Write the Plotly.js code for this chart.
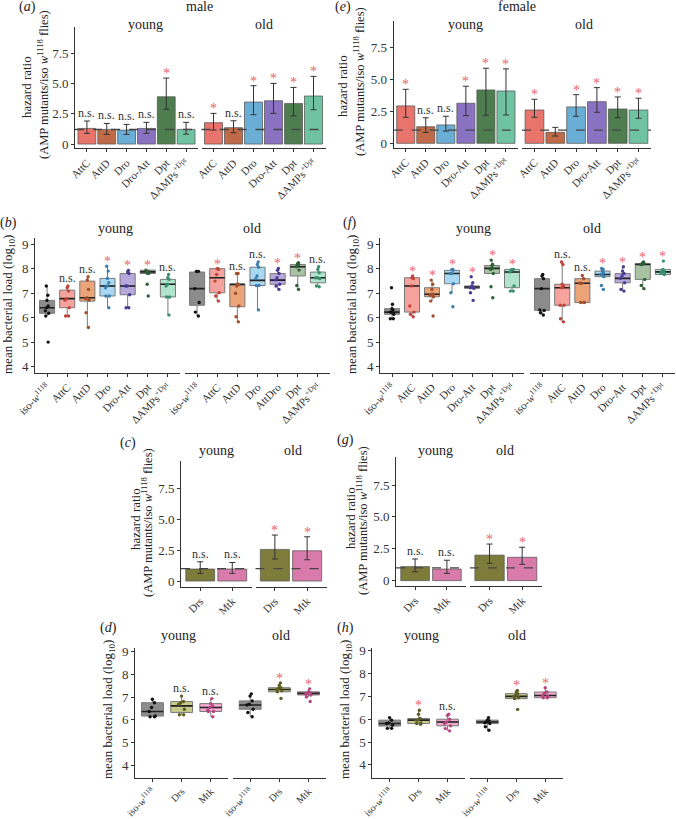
<!DOCTYPE html>
<html><head><meta charset="utf-8">
<script src="https://cdn.plot.ly/plotly-3.0.1.min.js"></script>
<style>html,body{margin:0;padding:0;background:#fff}#chart{width:676px;height:819px}</style>
</head><body><div id="chart"></div>
<script>
// ---------------- DATA ----------------
const hrLabels = ['AttC','AttD','Dro','Dro-Att','Dpt','ΔAMPs<sup>+Dpt</sup>'];
const hrColors = ['#E8746B','#BF6A48','#6AAED6','#8A72C2','#4E7D4F','#70C3A2'];
// (a) male hazard ratios
const aYoungHR = [1.29,1.21,1.15,1.29,3.90,1.21];
const aYoungLo = [0.88,0.80,0.80,0.88,2.86,0.82];
const aYoungHi = [1.90,1.70,1.62,1.79,5.44,1.79];
const aYoungSig = ['n.s.','n.s.','n.s.','n.s.','*','n.s.'];
const aOldHR = [1.76,1.35,3.46,3.57,3.35,3.96];
const aOldLo = [1.15,0.93,2.42,2.53,2.33,2.83];
const aOldHi = [2.53,1.92,4.81,5.00,4.67,5.58];
const aOldSig = ['*','n.s.','*','*','*','*'];
const aRef = 1.2;
// (e) female hazard ratios
const eYoungHR = [2.93,1.30,1.44,3.14,4.18,4.10];
const eYoungLo = [2.04,0.85,0.96,2.17,2.20,2.22];
const eYoungHi = [4.23,2.00,2.12,4.47,5.88,5.83];
const eYoungSig = ['*','n.s.','n.s.','*','*','*'];
const eOldHR = [2.61,0.86,2.85,3.26,2.69,2.61];
const eOldLo = [2.04,0.57,2.12,2.43,2.01,1.96];
const eOldHi = [3.45,1.25,3.81,4.36,3.63,3.53];
const eOldSig = ['*','','*','*','*','*'];
const eRef = 1.04;
// (c) male, (g) female: Drs / Mtk hazard ratios
const dmLabels = ['Drs','Mtk'];
const dmColors = ['#7E7C3A','#D97BAA'];
const cYoungHR = [0.97,0.97], cYoungLo = [0.62,0.62], cYoungHi = [1.56,1.50], cYoungSig = ['n.s.','n.s.'];
const cOldHR = [2.56,2.45], cOldLo = [1.78,1.72], cOldHi = [3.72,3.58], cOldSig = ['*','*'];
const cRef = 1.0;
const gYoungHR = [1.10,0.91], gYoungLo = [0.70,0.57], gYoungHi = [1.70,1.60], gYoungSig = ['n.s.','n.s.'];
const gOldHR = [2.00,1.83], gOldLo = [1.36,1.28], gOldHi = [2.87,2.62], gOldSig = ['*','*'];
const gRef = 1.0;

// bacterial load box plots
const isoLab = 'iso-<i>w</i><sup>1118</sup>';
const loadLabelsYoung = [isoLab,'AttC','AttD','Dro','Dro-Att','Dpt','ΔAMPs<sup>+Dpt</sup>'];
const loadLabelsOldB = [isoLab,'AttC','AttD','Dro','AttDro','Dpt','ΔAMPs<sup>+Dpt</sup>'];
const loadLabelsOldF = [isoLab,'AttC','AttD','Dro','Dro-Att','Dpt','ΔAMPs<sup>+Dpt</sup>'];
const loadFill = ['#8C8C8C','#F6A39D','#EBA478','#A9D8F2','#B7A8DD','#A8C3A3','#B2E4CD'];
const loadPt = ['#111111','#C0443C','#A0502E','#3B7FAF','#4A3D94','#2F5F35','#3A8F70'];
// (b) male young
const bYoungQ1 = [6.18,6.41,6.68,6.89,6.94,7.81,6.85];
const bYoungMed = [6.41,6.78,6.82,7.30,7.30,7.88,7.37];
const bYoungQ3 = [6.71,7.13,7.50,7.61,7.81,7.95,7.57];
const bYoungLo = [6.07,6.07,5.60,6.41,6.41,7.81,6.11];
const bYoungHi = [7.30,7.30,7.68,8.11,7.94,7.95,7.77];
const bYoungPts = [
  [7.30,6.92,6.71,6.48,6.41,6.28,6.18,6.07,5.00],
  [7.30,7.23,7.09,6.78,6.72,6.41,6.07,6.07],
  [7.68,7.55,7.16,6.82,6.78,6.72,6.20,5.60],
  [8.11,7.91,7.61,7.43,7.30,7.23,6.89,6.89,6.41],
  [7.94,7.87,7.81,7.30,7.30,6.94,6.41,6.41],
  [7.95,7.90,7.88,7.88,7.88,7.85,7.83,7.81,7.37,6.89],
  [7.77,7.64,7.57,7.37,7.30,6.85,6.85,6.11]];
const bYoungSig = ['','n.s.','n.s.','*','*','*','n.s.'];
// (b) male old
const bOldQ1 = [6.51,7.02,6.45,7.32,7.37,7.71,7.43];
const bOldMed = [7.19,7.64,7.37,7.53,7.54,8.09,7.64];
const bOldQ3 = [7.87,8.01,7.37,8.07,7.81,8.18,7.87];
const bOldLo = [6.07,6.68,5.80,6.32,7.16,7.16,7.27];
const bOldHi = [7.90,8.01,7.81,8.28,8.02,8.25,8.09];
const bOldPts = [
  [7.90,7.90,7.90,7.19,6.62,6.23,6.07],
  [8.01,8.01,7.98,7.77,7.50,7.02,6.89,6.68],
  [7.81,7.81,7.37,7.37,7.30,7.00,6.48,6.04,5.83],
  [8.28,8.18,8.07,7.71,7.60,7.32,7.32,6.32],
  [8.02,7.94,7.81,7.64,7.54,7.37,7.30,7.16],
  [8.25,8.22,8.18,8.14,8.09,7.95,7.32,7.16],
  [8.09,7.98,7.84,7.64,7.64,7.60,7.30,7.27]];
const bOldSig = ['','*','n.s.','n.s.','*','*','n.s.'];
// (f) female young
const fYoungQ1 = [6.14,6.23,6.86,7.39,7.20,7.81,7.23];
const fYoungMed = [6.23,7.30,6.96,7.81,7.26,8.02,7.87];
const fYoungQ3 = [6.37,7.64,7.23,7.94,7.30,8.14,7.98];
const fYoungLo = [5.96,6.04,6.68,7.02,7.20,7.81,7.09];
const fYoungHi = [6.55,7.71,7.54,7.98,7.43,8.36,7.98];
const fYoungPts = [
  [7.23,6.55,6.37,6.32,6.23,6.23,6.14,5.96,5.96],
  [7.71,7.64,7.60,7.30,6.48,6.23,6.14,6.04],
  [7.54,7.37,7.16,6.96,6.96,6.92,6.86,6.68,6.07],
  [7.98,7.98,7.94,7.81,7.81,7.39,7.02,6.45],
  [7.68,7.43,7.30,7.26,7.26,7.23,7.20,7.02,6.71],
  [8.36,8.18,8.14,8.02,8.02,7.98,7.81,7.27,6.82],
  [7.98,7.98,7.94,7.87,7.30,7.09,7.09]];
const fYoungSig = ['','*','*','*','*','*','*'];
// (f) female old
const fOldQ1 = [6.30,6.51,6.62,7.68,7.43,7.57,7.77];
const fOldMed = [7.19,7.23,7.41,7.77,7.61,8.18,7.88];
const fOldQ3 = [7.60,7.37,7.60,7.91,7.81,8.22,7.98];
const fOldLo = [6.11,5.80,6.62,7.68,7.09,7.19,7.77];
const fOldHi = [7.77,8.28,7.73,8.02,8.09,8.28,7.98];
const fOldPts = [
  [7.77,7.71,7.60,7.19,6.32,6.30,6.20,6.11],
  [8.28,8.18,7.37,7.30,7.23,6.51,6.51,5.96,5.83],
  [7.73,7.60,7.41,7.41,6.62,6.62,6.62],
  [8.02,7.98,7.91,7.84,7.77,7.77,7.68,7.32,7.16],
  [8.09,7.91,7.81,7.71,7.61,7.43,7.16,7.09],
  [8.28,8.25,8.22,8.18,8.18,7.57,7.32,7.19],
  [8.32,7.98,7.94,7.91,7.88,7.84,7.81,7.77]];
const fOldSig = ['','n.s.','n.s.','*','*','*','*'];
// (d),(h) Drs / Mtk bacterial load
const dmLoadLabels = [isoLab,'Drs','Mtk'];
const dmFill = ['#8C8C8C','#C9C98C','#F3AACF'];
const dmPt = ['#111111','#5E5E22','#B5467F'];
const dYoungQ1 = [6.16,6.32,6.36], dYoungMed = [6.36,6.61,6.54], dYoungQ3 = [6.75,6.80,6.71];
const dYoungLo = [6.13,6.22,6.13], dYoungHi = [6.90,7.04,6.93];
const dYoungPts = [[6.90,6.75,6.54,6.36,6.16,6.13,6.13],[7.04,6.80,6.75,6.68,6.46,6.22,6.22],[6.93,6.71,6.61,6.54,6.42,6.36,6.36,6.13]];
const dYoungSig = ['','n.s.','n.s.'];
const dOldQ1 = [6.46,7.23,7.09], dOldMed = [6.65,7.33,7.16], dOldQ3 = [6.83,7.41,7.23];
const dOldLo = [6.13,7.23,7.00], dOldHi = [7.14,7.62,7.36];
const dOldPts = [[7.14,7.04,6.83,6.68,6.65,6.46,6.32,6.13],[7.62,7.51,7.41,7.38,7.33,7.28,7.23,6.94],[7.36,7.23,7.19,7.16,7.12,7.09,7.00,6.80]];
const dOldSig = ['','*','*'];
const hYoungQ1 = [5.70,5.81,5.71], hYoungMed = [5.81,5.96,5.88], hYoungQ3 = [5.96,6.03,6.00];
const hYoungLo = [5.60,5.78,5.49], hYoungHi = [6.07,6.39,6.22];
const hYoungPts = [[6.07,5.96,5.84,5.81,5.74,5.60,5.60],[6.39,6.22,6.03,5.96,5.96,5.84,5.81,5.78],[6.22,6.17,6.00,5.88,5.81,5.71,5.59,5.49]];
const hYoungSig = ['','*','n.s.'];
const hOldQ1 = [5.81,6.90,6.94], hOldMed = [5.88,7.00,7.04], hOldQ3 = [5.96,7.12,7.19];
const hOldLo = [5.52,6.90,6.94], hOldHi = [6.07,7.26,7.38];
const hOldPts = [[6.07,5.96,5.93,5.88,5.84,5.81,5.67,5.52],[7.26,7.19,7.12,7.04,7.00,6.94,6.90,6.43],[7.38,7.19,7.14,7.04,7.00,6.94,6.94]];
const hOldSig = ['','*','*'];

const hrTicks = [0,2.5,5,7.5], hrTickText = ['0','2.5','5.0','7.5'];
const loadTicks = [4,5,6,7,8,9], loadTickText = ['4','5','6','7','8','9'];

// ---------------- BUILD ----------------
const F = "Liberation Serif, Times New Roman, serif";
const W = 676, H = 819;
const STAR = '#E8636B', NS = '#333333';
const layout = {
  width: W, height: H, margin: {l:0, r:0, t:0, b:0}, showlegend: false,
  paper_bgcolor: '#ffffff', plot_bgcolor: 'rgba(0,0,0,0)',
  font: {family: F, size: 12, color: '#222'},
  boxmode: 'overlay', barmode: 'overlay',
  annotations: [], shapes: []
};
const traces = [];
let xCount = 0, yCount = 0;
const nm = (p, n) => n === 1 ? p : p + n;

function makePanel(g, labsYoung, labsOld, ticks, tickText, xFont) {
  yCount++;
  const yName = nm('y', yCount);
  const xs = [];
  [labsYoung, labsOld].forEach((labs, k) => {
    xCount++;
    const xName = nm('x', xCount);
    layout['xaxis' + (xCount === 1 ? '' : xCount)] = {
      domain: [g.x[k][0] / W, g.x[k][1] / W], range: [-0.6, labs.length - 0.4], anchor: yName,
      showline: true, linecolor: '#333', linewidth: 1, ticks: 'outside', ticklen: 3, tickcolor: '#333', tickwidth: 1,
      tickmode: 'array', tickvals: labs.map((_, i) => i), ticktext: labs, tickangle: -45,
      tickfont: {family: F, size: xFont || 11, color: '#333'}, showgrid: false, zeroline: false, fixedrange: true
    };
    xs.push(xName);
  });
  layout['yaxis' + (yCount === 1 ? '' : yCount)] = {
    domain: [1 - g.y[1] / H, 1 - g.y[0] / H], range: g.r, anchor: xs[0],
    showline: true, linecolor: '#333', linewidth: 1, ticks: 'outside', ticklen: 3, tickcolor: '#333', tickwidth: 1,
    tickmode: 'array', tickvals: ticks, ticktext: tickText,
    tickfont: {family: F, size: 13, color: '#333'}, showgrid: false, zeroline: false, fixedrange: true
  };
  return {y: yName, xs};
}

function sigAnn(xa, ya, x, y, s) {
  const star = s === '*';
  return {xref: xa, yref: ya, x: x, y: y, text: s, showarrow: false, yanchor: 'bottom',
    yshift: star ? -5 : -1, font: {family: F, size: star ? 14 : 12, color: star ? STAR : NS}};
}

function barHalf(ax, k, vals, lo, hi, colors, sig, ref) {
  traces.push({
    type: 'bar', x: vals.map((_, i) => i), y: vals, width: 0.9, xaxis: ax.xs[k], yaxis: ax.y,
    marker: {color: colors, line: {color: 'rgba(85,85,85,0.75)', width: 1}},
    error_y: {type: 'data', symmetric: false, array: hi.map((h, i) => h - vals[i]),
      arrayminus: lo.map((l, i) => vals[i] - l), color: '#333', thickness: 1, width: 3},
    hoverinfo: 'skip'
  });
  layout.shapes.push({type: 'line', xref: ax.xs[k] + ' domain', x0: 0, x1: 1, yref: ax.y, y0: ref, y1: ref,
    line: {color: '#444', width: 1.3, dash: 'dash'}});
  sig.forEach((s, i) => { if (s) layout.annotations.push(sigAnn(ax.xs[k], ax.y, i, hi[i], s)); });
}

function boxHalf(ax, k, q1, med, q3, lo, hi, pts, fills, ptCols, sig) {
  med.forEach((m, i) => {
    const common = {xaxis: ax.xs[k], yaxis: ax.y, width: 0.75, hoverinfo: 'skip', whiskerwidth: 0};
    traces.push(Object.assign({type: 'box', x: [i], q1: [q1[i]], median: [m], q3: [q3[i]],
      lowerfence: [lo[i]], upperfence: [hi[i]], fillcolor: fills[i], boxpoints: false,
      line: {color: '#7a7a7a', width: 1}}, common));
    traces.push(Object.assign({type: 'box', x: [i], q1: [m], median: [m], q3: [m],
      lowerfence: [m], upperfence: [m], fillcolor: 'rgba(0,0,0,0)', boxpoints: false,
      line: {color: '#222', width: 1.6}}, common));
    traces.push(Object.assign({type: 'box', x: pts[i].map(() => i), y: pts[i], boxpoints: 'all',
      jitter: 0.35, pointpos: 0, fillcolor: 'rgba(0,0,0,0)', line: {color: 'rgba(0,0,0,0)', width: 0},
      marker: {color: ptCols[i], size: 3.4}}, common));
    if (sig[i]) layout.annotations.push(sigAnn(ax.xs[k], ax.y, i, Math.max(hi[i], ...pts[i]), sig[i]));
  });
}

// panels
const pA = makePanel({y: [27, 148.3], r: [-0.35, 9.65], x: [[75, 198], [201.5, 325.5]]}, hrLabels, hrLabels, hrTicks, hrTickText);
barHalf(pA, 0, aYoungHR, aYoungLo, aYoungHi, hrColors, aYoungSig, aRef);
barHalf(pA, 1, aOldHR, aOldLo, aOldHi, hrColors, aOldSig, aRef);

const pE = makePanel({y: [20.7, 147.8], r: [-0.35, 9.6], x: [[393.7, 518], [522, 651]]}, hrLabels, hrLabels, hrTicks, hrTickText);
barHalf(pE, 0, eYoungHR, eYoungLo, eYoungHi, hrColors, eYoungSig, eRef);
barHalf(pE, 1, eOldHR, eOldLo, eOldHi, hrColors, eOldSig, eRef);

const pB = makePanel({y: [238.4, 372.6], r: [3.75, 9.25], x: [[35, 180], [185, 330]]}, loadLabelsYoung, loadLabelsOldB, loadTicks, loadTickText);
boxHalf(pB, 0, bYoungQ1, bYoungMed, bYoungQ3, bYoungLo, bYoungHi, bYoungPts, loadFill, loadPt, bYoungSig);
boxHalf(pB, 1, bOldQ1, bOldMed, bOldQ3, bOldLo, bOldHi, bOldPts, loadFill, loadPt, bOldSig);

const pF = makePanel({y: [238.4, 372.6], r: [3.75, 9.25], x: [[380, 524], [530, 675]]}, loadLabelsYoung, loadLabelsOldF, loadTicks, loadTickText);
boxHalf(pF, 0, fYoungQ1, fYoungMed, fYoungQ3, fYoungLo, fYoungHi, fYoungPts, loadFill, loadPt, fYoungSig);
boxHalf(pF, 1, fOldQ1, fOldMed, fOldQ3, fOldLo, fOldHi, fOldPts, loadFill, loadPt, fOldSig);

const pC = makePanel({y: [460.5, 586.6], r: [-0.45, 9.75], x: [[181, 251.5], [255.5, 326.5]]}, dmLabels, dmLabels, hrTicks, hrTickText);
barHalf(pC, 0, cYoungHR, cYoungLo, cYoungHi, dmColors, cYoungSig, cRef);
barHalf(pC, 1, cOldHR, cOldLo, cOldHi, dmColors, cOldSig, cRef);

const pG = makePanel({y: [456.7, 586], r: [-0.42, 9.72], x: [[396, 466], [470, 541.7]]}, dmLabels, dmLabels, hrTicks, hrTickText);
barHalf(pG, 0, gYoungHR, gYoungLo, gYoungHi, dmColors, gYoungSig, gRef);
barHalf(pG, 1, gOldHR, gOldLo, gOldHi, dmColors, gOldSig, gRef);

const pD = makePanel({y: [648.3, 777.7], r: [3.44, 9.15], x: [[135, 228.3], [232.7, 326]]}, dmLoadLabels, dmLoadLabels, loadTicks, loadTickText, 10);
boxHalf(pD, 0, dYoungQ1, dYoungMed, dYoungQ3, dYoungLo, dYoungHi, dYoungPts, dmFill, dmPt, dYoungSig);
boxHalf(pD, 1, dOldQ1, dOldMed, dOldQ3, dOldLo, dOldHi, dOldPts, dmFill, dmPt, dOldSig);

const pH = makePanel({y: [647.7, 777.7], r: [3.44, 9.13], x: [[372.3, 465], [470, 562.7]]}, dmLoadLabels, dmLoadLabels, loadTicks, loadTickText, 10);
boxHalf(pH, 0, hYoungQ1, hYoungMed, hYoungQ3, hYoungLo, hYoungHi, hYoungPts, dmFill, dmPt, hYoungSig);
boxHalf(pH, 1, hOldQ1, hOldMed, hOldQ3, hOldLo, hOldHi, hOldPts, dmFill, dmPt, hOldSig);

// text annotations (paper coords from pixel positions)
function txt(x, y, text, size, angle) {
  layout.annotations.push({xref: 'paper', yref: 'paper', x: x / W, y: 1 - y / H, text: text, showarrow: false,
    xanchor: 'center', yanchor: 'middle', textangle: angle || 0, font: {family: F, size: size, color: '#222'}});
}
const letters = [['(<i>a</i>)',27,7],['(<i>e</i>)',343,7],['(<i>b</i>)',8,223],['(<i>f</i>)',350,223],
  ['(<i>c</i>)',128,443],['(<i>g</i>)',345,440],['(<i>d</i>)',108,628],['(<i>h</i>)',345,628]];
letters.forEach(l => txt(l[1], l[2], l[0], 14));
const strips = [['male',199,7],['young',145,24],['old',264,24],['female',517,7],['young',465,24],['old',584,24],
  ['young',115,228],['old',252,228],['young',473,228],['old',592,228],
  ['young',216,450],['old',293,450],['young',435,450],['old',505,450],
  ['young',178,635],['old',281,635],['young',421,635],['old',517,635]];
strips.forEach(s => txt(s[1], s[2], s[0], 14));
const hr1 = 'hazard ratio', hr2 = '(AMP mutants/iso <i>w</i><sup>1118</sup> flies)';
txt(27, 87, hr1, 13, -90); txt(43, 85, hr2, 12.5, -90);
txt(343, 86, hr1, 13, -90); txt(359, 82, hr2, 12.5, -90);
txt(135, 519, hr1, 13, -90); txt(147, 523, hr2, 12.5, -90);
txt(350, 518, hr1, 13, -90); txt(362, 521, hr2, 12.5, -90);
const ml = 'mean bacterial load (log<sub>10</sub>)';
txt(8, 305, ml, 13, -90); txt(352, 305, ml, 13, -90);
txt(108, 710, ml, 13, -90); txt(345, 710, ml, 13, -90);

Plotly.newPlot('chart', traces, layout, {displayModeBar: false, staticPlot: true});
</script></body></html>
